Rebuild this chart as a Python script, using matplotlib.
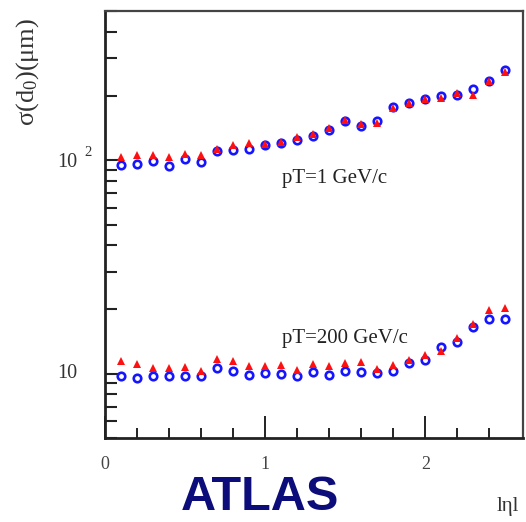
import numpy as np
import matplotlib
matplotlib.use("Agg")
import matplotlib.pyplot as plt

plt.rcParams['mathtext.fontset'] = 'custom'
plt.rcParams['mathtext.rm'] = 'Liberation Serif'
plt.rcParams['mathtext.it'] = 'Liberation Serif:italic'

# |eta| bins
eta = [0.1, 0.2, 0.3, 0.4, 0.5, 0.6, 0.7, 0.8, 0.9, 1.0, 1.1, 1.2, 1.3,
       1.4, 1.5, 1.6, 1.7, 1.8, 1.9, 2.0, 2.1, 2.2, 2.3, 2.4, 2.5]

# pT = 1 GeV/c
low_blue = [94.8, 96.5, 99.2, 94.1, 101.1, 98.2, 110.5, 111.4, 113.4, 117.5, 120.4, 124.7, 129.4,
            138.8, 152.1, 144.6, 152.1, 177.4, 186.1, 194.3, 199.1, 202.8, 214.7, 234.8, 263.4]
low_red = [103.6, 105.5, 106.3, 103.0, 106.7, 105.5, 113.4, 117.5, 120.1, 119.6, 121.8, 128.1, 132.3,
           141.1, 153.8, 147.3, 148.9, 175.9, 186.1, 194.3, 196.3, 206.3, 201.2, 234.8, 258.6]

# pT = 200 GeV/c
high_blue = [9.71, 9.55, 9.71, 9.71, 9.71, 9.71, 10.63, 10.33, 9.89, 10.08, 9.97, 9.79, 10.18,
             9.82, 10.33, 10.18, 10.08, 10.33, 11.22, 11.54, 13.33, 14.06, 16.63, 18.01, 18.01]
high_red = [11.41, 11.10, 10.63, 10.63, 10.70, 10.33, 11.71, 11.41, 10.90, 10.90, 11.02, 10.44, 11.10,
            10.86, 11.22, 11.34, 10.55, 11.02, 11.62, 12.27, 12.72, 14.77, 17.07, 19.91, 20.28]

xticks = [0, 1, 2]
xticklabels = ['0', '1', '2']
ylabels_val = [10, 100]

fig = plt.figure(figsize=(5.26, 5.22), dpi=100)
ax = fig.add_axes([105/526, 1 - 438/522, (523 - 105)/526, (438 - 11)/522])

for b, r in ((low_blue, low_red), (high_blue, high_red)):
    ax.plot(eta, b, linestyle='none', marker='o', markersize=5.4, markerfacecolor='none',
            markeredgecolor='#1515ff', markeredgewidth=1.9, zorder=3)
    ax.plot(eta, r, linestyle='none', marker='^', markersize=6, color='#ff1010',
            markeredgewidth=0, zorder=4)

ax.set_yscale('log')
ax.set_xlim(0, 2.61)
ax.set_ylim(5, 500)

ax.set_xticks(xticks)
ax.set_xticklabels(xticklabels, family='Liberation Serif', fontsize=13, color='#444444')
ax.set_xticks(np.arange(0.2, 2.6, 0.2), minor=True)
ax.tick_params(axis='x', which='major', direction='in', length=15.5, width=1.4, pad=13, color='#222222')
ax.tick_params(axis='x', which='minor', direction='in', length=7.2, width=1.4, color='#222222')

ax.set_yticks(ylabels_val)
ax.set_yticklabels(['', ''])
ax.yaxis.set_minor_locator(matplotlib.ticker.LogLocator(base=10, subs=np.arange(2, 10)))
ax.yaxis.set_minor_formatter(matplotlib.ticker.NullFormatter())
ax.tick_params(axis='y', which='major', direction='in', length=10, width=1.5, color='#222222')
ax.tick_params(axis='y', which='minor', direction='in', length=8.6, width=1.5, color='#222222')

for s in ('left', 'bottom'):
    ax.spines[s].set_linewidth(2.0)
    ax.spines[s].set_color('#222222')
for s in ('top', 'right'):
    ax.spines[s].set_linewidth(1.6)
    ax.spines[s].set_color('#444444')

ytr = ax.get_yaxis_transform()
ax.annotate('10', xy=(0, ylabels_val[0]), xycoords=ytr, xytext=(-20.2, 0), textcoords='offset points',
            ha='right', va='center', family='Liberation Serif', fontsize=14.5, color='#333333')
ax.annotate('10', xy=(0, ylabels_val[1]), xycoords=ytr, xytext=(-20.2, -1.5), textcoords='offset points',
            ha='right', va='center', family='Liberation Serif', fontsize=14.5, color='#333333')
ax.annotate('2', xy=(0, ylabels_val[1]), xycoords=ytr, xytext=(-9.4, 5.8), textcoords='offset points',
            ha='right', va='center', family='Liberation Serif', fontsize=10.5, color='#333333')

ax.text(1.106, 82.4, 'pT=1 GeV/c', family='Liberation Serif', fontsize=15, color='#222222',
        ha='left', va='center')
ax.text(1.106, 14.6, 'pT=200 GeV/c', family='Liberation Serif', fontsize=15, color='#222222',
        ha='left', va='center')

fig.text(28/526, 1 - 72/522, 'σ(d$_0$)(μm)', rotation=90, family='Liberation Serif', fontsize=19,
         color='#333333', ha='center', va='center')
fig.text(260/526, 1 - 497/522, 'ATLAS', family='Liberation Sans', fontweight='bold', fontsize=35,
         color='#0c0c7a', ha='center', va='center')
fig.text(508/526, 1 - 507/522, 'lηl', family='Liberation Serif', fontsize=15, color='#333333',
         ha='center', va='center')

fig.savefig('out.png', dpi=100, facecolor='white')
